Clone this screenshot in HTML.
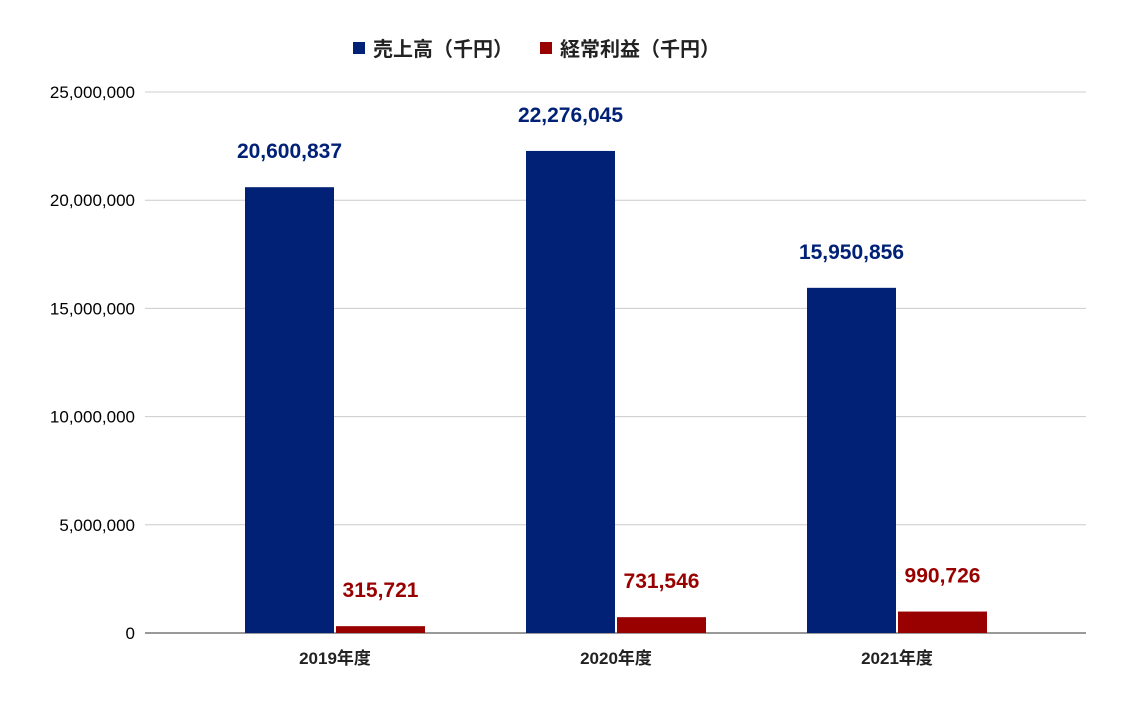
<!DOCTYPE html>
<html><head><meta charset="utf-8"><style>
body{margin:0;background:#fff;}
svg{font-family:"Liberation Sans","Noto Sans CJK JP",sans-serif;}
</style></head><body>
<svg id="chart" width="1122" height="703" xmlns="http://www.w3.org/2000/svg">
<g id="legend">
 <g>
  <rect x="353" y="42" width="12" height="12" fill="#002176"/>
  <text x="373" y="56" font-size="20" font-weight="bold" fill="#222">売上高（千円）</text>
 </g>
 <g>
  <rect x="540" y="42" width="12" height="12" fill="#990000"/>
  <text x="560" y="56" font-size="20" font-weight="bold" fill="#222">経常利益（千円）</text>
 </g>
</g>
<g id="grid"></g><g id="bars"></g>
</svg>
<script>
const categories=["2019年度","2020年度","2021年度"];
const sales=[20600837,22276045,15950856];
const profit=[315721,731546,990726];
const yTicks=[0,5000000,10000000,15000000,20000000,25000000];
const NS="http://www.w3.org/2000/svg";
const x0=145,x1=1086,yBase=633,yTop=92,yMax=25000000;
const y=v=>yBase-(v/yMax)*(yBase-yTop);
const step=281;
const cx=i=>335+step*i;
const fmt=v=>v.toLocaleString("en-US");
function mk(tag,attrs,parent,text){const e=document.createElementNS(NS,tag);for(const k in attrs)e.setAttribute(k,attrs[k]);if(text!==undefined)e.textContent=text;parent.appendChild(e);return e;}
const grid=document.getElementById("grid"),bars=document.getElementById("bars");
yTicks.forEach(t=>{
 const l=mk("line",{x1:x0,x2:x1,y1:y(t),y2:y(t),stroke:t===0?"#333":"#ccc","stroke-width":1},grid);
 
 
 const tx=mk("text",{x:135,y:y(t)+6,"text-anchor":"end","font-size":17,fill:"#000"},grid,fmt(t));
 
 
});
const bw=89;
categories.forEach((c,i)=>{
 const c0=cx(i);
 const b1=mk("rect",{x:c0-bw-1,y:y(sales[i]),width:bw,height:yBase-y(sales[i]),fill:"#002176"},bars);
 
 
 const b2=mk("rect",{x:c0+1,y:y(profit[i]),width:bw,height:yBase-y(profit[i]),fill:"#990000"},bars);
 
 
 const l1=mk("text",{x:c0-bw/2-1,y:y(sales[i])-29,"text-anchor":"middle","font-size":21,"font-weight":"bold",fill:"#002176"},bars,fmt(sales[i]));
 
 
 const l2=mk("text",{x:c0+bw/2+1,y:y(profit[i])-29,"text-anchor":"middle","font-size":21,"font-weight":"bold",fill:"#990000"},bars,fmt(profit[i]));
 
 
 const xl=mk("text",{x:c0,y:664,"text-anchor":"middle","font-size":17,"font-weight":"bold",fill:"#222"},bars,c);
 
 
});
</script>
</body></html>
